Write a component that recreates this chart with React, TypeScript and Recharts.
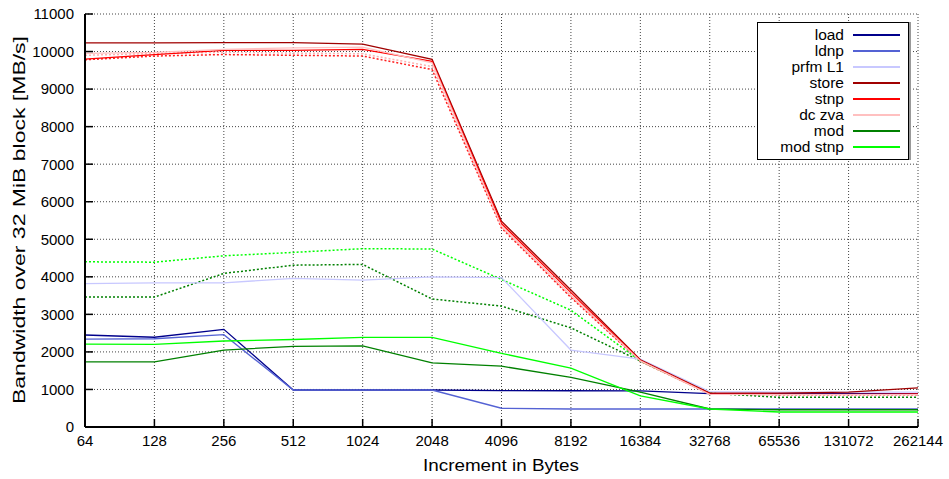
import React from 'react';
import { CartesianGrid, Legend, Line, LineChart, XAxis, YAxis } from 'recharts';

const categories = ['64', '128', '256', '512', '1024', '2048', '4096', '8192', '16384', '32768', '65536', '131072', '262144'];

const load = [2450, 2390, 2600, 985, 985, 985, 970, 965, 960, 890, 890, 890, 890];
const ldnp = [2340, 2350, 2460, 985, 985, 985, 500, 480, 480, 480, 480, 480, 480];
const prfmL1 = [3820, 3840, 3840, 3960, 3910, 4000, 3980, 2050, 1810, 940, 930, 930, 930];
const store = [10230, 10230, 10240, 10240, 10200, 9790, 5480, 3650, 1790, 900, 900, 930, 1040];
const stnp = [9800, 9920, 10030, 10030, 10060, 9740, 5420, 3580, 1770, 880, 870, 870, 880];
const dcZva = [9950, 9980, 10060, 10100, 10120, 9700, 5350, 3520, 1760, 870, 860, 860, 860];
const mod = [1735, 1735, 2050, 2150, 2160, 1710, 1620, 1320, 930, 480, 460, 460, 460];
const modStnp = [2210, 2200, 2290, 2330, 2385, 2385, 1960, 1570, 830, 480, 400, 400, 400];

// second run, drawn dotted (not in the key)
const stnpDotted = [9780, 9880, 9920, 9900, 9880, 9520, 5300, 3450, 1750, 880, 860, 860, 860];
const dcZvaDotted = [9900, 9950, 9980, 9960, 9940, 9600, 5330, 3480, 1755, 875, 865, 865, 865];
const modDotted = [3460, 3460, 4090, 4310, 4330, 3410, 3220, 2640, 1760, 900, 790, 790, 790];
const modStnpDotted = [4400, 4390, 4560, 4650, 4750, 4740, 3930, 3110, 1760, 890, 870, 870, 870];

const yTicks = [0, 1000, 2000, 3000, 4000, 5000, 6000, 7000, 8000, 9000, 10000, 11000];

const solid = [
  { key: 'load', name: 'load', color: '#00008b', values: load },
  { key: 'ldnp', name: 'ldnp', color: '#5462d4', values: ldnp },
  { key: 'prfm', name: 'prfm L1', color: '#c8c8ff', values: prfmL1 },
  { key: 'store', name: 'store', color: '#a00000', values: store },
  { key: 'stnp', name: 'stnp', color: '#ff0000', values: stnp },
  { key: 'dczva', name: 'dc zva', color: '#ffc0c0', values: dcZva },
  { key: 'mod', name: 'mod', color: '#008000', values: mod },
  { key: 'modstnp', name: 'mod stnp', color: '#00ff00', values: modStnp }
];

const dotted = [
  { key: 'dczva2', color: '#ffb0b0', values: dcZvaDotted },
  { key: 'stnp2', color: '#ff2020', values: stnpDotted },
  { key: 'mod2', color: '#008000', values: modDotted },
  { key: 'modstnp2', color: '#00ff00', values: modStnpDotted }
];

const data = categories.map((c, i) => {
  const row: Record<string, string | number> = { x: c };
  solid.forEach((s) => (row[s.key] = s.values[i]));
  dotted.forEach((s) => (row[s.key] = s.values[i]));
  return row;
});

const font = "'Liberation Sans', Arial, Helvetica, sans-serif";
const tickStyle = { fill: '#000', fontSize: 15, fontFamily: font };

function Key() {
  return (
    <div
      style={{
        border: '1px solid #000',
        background: '#fff',
        padding: '4px 0',
        fontFamily: font,
        fontSize: 15.5,
        boxShadow: '2px 0 0 #999',
        color: '#000'
      }}
    >
      {solid.map((s) => (
        <div key={s.key} style={{ display: 'flex', alignItems: 'center', height: 16 }}>
          <span style={{ width: 86, textAlign: 'right', lineHeight: '16px', whiteSpace: 'nowrap' }}>{s.name}</span>
          <span style={{ display: 'block', width: 47, height: 2, background: s.color, marginLeft: 9 }} />
        </div>
      ))}
    </div>
  );
}

export default function App() {
  return (
    <div style={{ position: 'absolute', left: 0, top: 0, background: '#fff' }}>
      <LineChart width={949} height={479} data={data} margin={{ top: 14, right: 31, left: 0, bottom: 0 }}>
        <CartesianGrid stroke="#444" strokeDasharray="1 2" />
        <XAxis
          dataKey="x"
          height={52}
          interval={0}
          tick={tickStyle}
          tickSize={-8}
          tickMargin={16}
          axisLine={{ stroke: '#000', strokeWidth: 2 }}
          tickLine={{ stroke: '#000', strokeWidth: 1.5 }}
          label={() => (
            <text
              x={501}
              y={471}
              textAnchor="middle"
              fontSize={16}
              textLength={156}
              lengthAdjust="spacingAndGlyphs"
              fontFamily={font}
              fill="#000"
            >
              Increment in Bytes
            </text>
          )}
        />
        <YAxis
          width={85}
          domain={[0, 11000]}
          ticks={yTicks}
          interval={0}
          tick={tickStyle}
          tickSize={-8}
          tickMargin={19}
          axisLine={{ stroke: '#000', strokeWidth: 2 }}
          tickLine={{ stroke: '#000', strokeWidth: 1.5 }}
          label={() => (
            <text
              x={19}
              y={220}
              transform="rotate(-90 19 220)"
              textAnchor="middle"
              dominantBaseline="central"
              fontSize={16}
              textLength={368}
              lengthAdjust="spacingAndGlyphs"
              fontFamily={font}
              fill="#000"
            >
              Bandwidth over 32 MiB block [MB/s]
            </text>
          )}
        />
        <Legend
          layout="vertical"
          align="center"
          verticalAlign="middle"
          content={() => <Key />}
          wrapperStyle={{ left: 757, top: 22, width: 152 }}
        />
        {dotted.map((s) => (
          <Line
            key={s.key}
            type="linear"
            dataKey={s.key}
            stroke={s.color}
            strokeWidth={1.5}
            strokeDasharray="2 2"
            dot={false}
            activeDot={false}
            legendType="none"
            isAnimationActive={false}
          />
        ))}
        {solid.map((s) => (
          <Line
            key={s.key}
            type="linear"
            dataKey={s.key}
            name={s.name}
            stroke={s.color}
            strokeWidth={1.3}
            dot={false}
            activeDot={false}
            isAnimationActive={false}
          />
        ))}
      </LineChart>
    </div>
  );
}
